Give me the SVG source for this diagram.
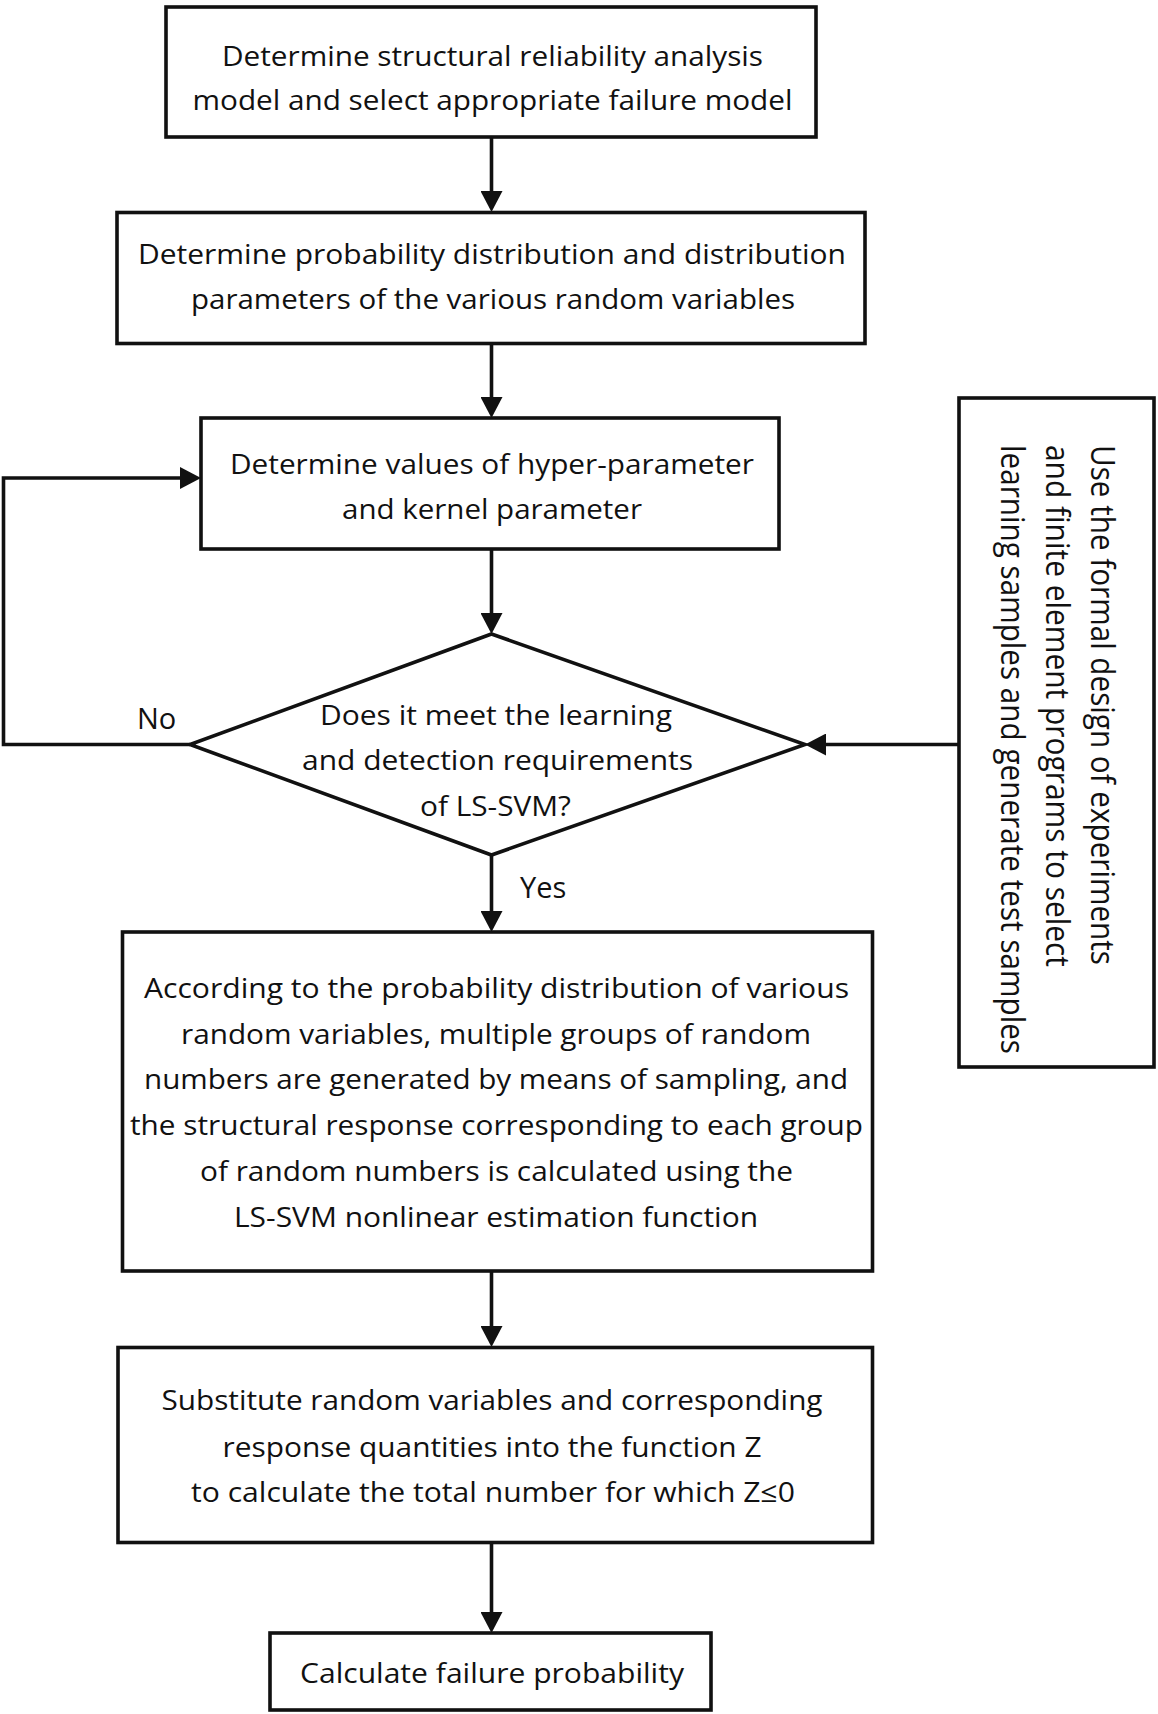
<svg xmlns="http://www.w3.org/2000/svg" width="1158" height="1714" viewBox="0 0 1158 1714">
<style>
.box{fill:#fff;stroke:#111;stroke-width:3.6}
.t{font-family:"Open Sans","Liberation Sans",sans-serif;font-size:28px;fill:#111;text-anchor:middle}
.lbl{font-family:"Open Sans","Liberation Sans",sans-serif;font-size:29px;fill:#111}
.side{font-family:"Open Sans","Liberation Sans",sans-serif;font-size:33px;fill:#111}
.c{fill:none;stroke:#111;stroke-width:3.6}
</style>
<defs>
<marker id="ah" markerUnits="userSpaceOnUse" markerWidth="21" markerHeight="22" refX="10" refY="11" orient="auto" viewBox="0 0 21 22">
<path d="M0,0 L21,11 L0,22 Z" fill="#111"/>
</marker>
</defs>
<rect width="1158" height="1714" fill="#fff"/>

<g id="connectors">
<path class="c" d="M491.5,137 V201" marker-end="url(#ah)"/>
<path class="c" d="M491.5,343.5 V407" marker-end="url(#ah)"/>
<path class="c" d="M491.5,549 V623" marker-end="url(#ah)"/>
<path class="c" d="M491.5,855 V921" marker-end="url(#ah)"/>
<path class="c" d="M491.5,1271 V1336" marker-end="url(#ah)"/>
<path class="c" d="M491.5,1542 V1622" marker-end="url(#ah)"/>
<path class="c" d="M190,744.5 H3.5 V478 H190" marker-end="url(#ah)"/>
<path class="c" d="M959,744.5 H816" marker-end="url(#ah)"/>
<text class="lbl" x="137" y="729">No</text>
<text class="lbl" x="520" y="898">Yes</text>
</g>

<g id="n1">
<rect class="box" x="166" y="7" width="650" height="130"/>
<text class="t" x="492.5" y="66" textLength="541" lengthAdjust="spacingAndGlyphs">Determine structural reliability analysis</text>
<text class="t" x="492.5" y="110" textLength="600" lengthAdjust="spacingAndGlyphs">model and select appropriate failure model</text>
</g>

<g id="n2">
<rect class="box" x="117" y="212.5" width="748" height="131"/>
<text class="t" x="492" y="263.5" textLength="708" lengthAdjust="spacingAndGlyphs">Determine probability distribution and distribution</text>
<text class="t" x="493" y="309" textLength="604" lengthAdjust="spacingAndGlyphs">parameters of the various random variables</text>
</g>

<g id="n3">
<rect class="box" x="201" y="418" width="578" height="131"/>
<text class="t" x="492" y="474" textLength="524" lengthAdjust="spacingAndGlyphs">Determine values of hyper-parameter</text>
<text class="t" x="492" y="519" textLength="300" lengthAdjust="spacingAndGlyphs">and kernel parameter</text>
</g>

<g id="n4">
<polygon class="box" points="491.5,634 805,744.5 491.5,855 190,744.5"/>
<text class="t" x="496" y="724.5" textLength="352" lengthAdjust="spacingAndGlyphs">Does it meet the learning</text>
<text class="t" x="497.5" y="770" textLength="391" lengthAdjust="spacingAndGlyphs">and detection requirements</text>
<text class="t" x="495.5" y="816" textLength="151" lengthAdjust="spacingAndGlyphs">of LS-SVM?</text>
</g>

<g id="n5">
<rect class="box" x="959" y="398" width="195" height="669"/>
<text class="side" transform="translate(1091,445) rotate(90)" textLength="520" lengthAdjust="spacingAndGlyphs">Use the formal design of experiments</text>
<text class="side" transform="translate(1046,445) rotate(90)" textLength="522" lengthAdjust="spacingAndGlyphs">and finite element programs to select</text>
<text class="side" transform="translate(1001,445) rotate(90)" textLength="609" lengthAdjust="spacingAndGlyphs">learning samples and generate test samples</text>
</g>

<g id="n6">
<rect class="box" x="122.5" y="932" width="750" height="339"/>
<text class="t" x="496.5" y="997.5" textLength="705" lengthAdjust="spacingAndGlyphs">According to the probability distribution of various</text>
<text class="t" x="496" y="1043.5" textLength="630" lengthAdjust="spacingAndGlyphs">random variables, multiple groups of random</text>
<text class="t" x="496" y="1089" textLength="704" lengthAdjust="spacingAndGlyphs">numbers are generated by means of sampling, and</text>
<text class="t" x="496.5" y="1135" textLength="733" lengthAdjust="spacingAndGlyphs">the structural response corresponding to each group</text>
<text class="t" x="496.5" y="1181" textLength="593" lengthAdjust="spacingAndGlyphs">of random numbers is calculated using the</text>
<text class="t" x="496" y="1226.5" textLength="524" lengthAdjust="spacingAndGlyphs">LS-SVM nonlinear estimation function</text>
</g>

<g id="n7">
<rect class="box" x="118" y="1347.5" width="754.5" height="195"/>
<text class="t" x="492" y="1410" textLength="661" lengthAdjust="spacingAndGlyphs">Substitute random variables and corresponding</text>
<text class="t" x="492" y="1456.5" textLength="539" lengthAdjust="spacingAndGlyphs">response quantities into the function Z</text>
<text class="t" x="493" y="1502" textLength="604" lengthAdjust="spacingAndGlyphs">to calculate the total number for which Z≤0</text>
</g>

<g id="n8">
<rect class="box" x="270" y="1633" width="441" height="77"/>
<text class="t" x="492" y="1682.5" textLength="384" lengthAdjust="spacingAndGlyphs">Calculate failure probability</text>
</g>
</svg>
